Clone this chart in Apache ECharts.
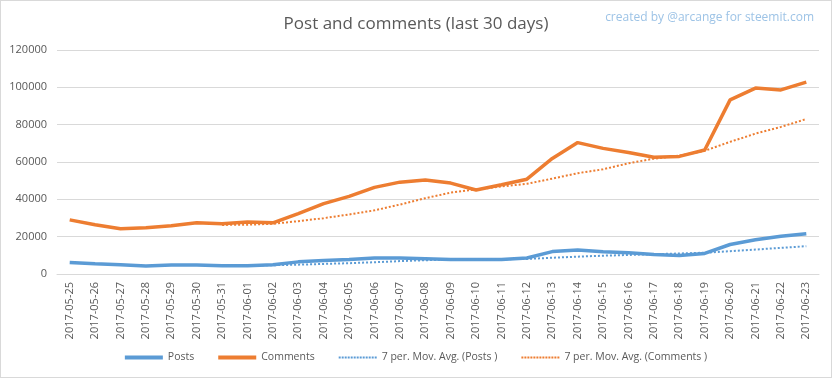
<!DOCTYPE html>
<html>
<head>
<meta charset="utf-8">
<script src="https://cdn.jsdelivr.net/npm/echarts@6/dist/echarts.min.js"></script>
<style>
html,body{margin:0;padding:0;background:#fff;}
#c{width:832px;height:378px;box-sizing:border-box;border:1px solid #d9d9d9;}
</style>
</head>
<body>
<div id="c"></div>
<script>
const categories = ['2017-05-25','2017-05-26','2017-05-27','2017-05-28','2017-05-29','2017-05-30','2017-05-31','2017-06-01','2017-06-02','2017-06-03','2017-06-04','2017-06-05','2017-06-06','2017-06-07','2017-06-08','2017-06-09','2017-06-10','2017-06-11','2017-06-12','2017-06-13','2017-06-14','2017-06-15','2017-06-16','2017-06-17','2017-06-18','2017-06-19','2017-06-20','2017-06-21','2017-06-22','2017-06-23'];
const posts = [6200,5500,4900,4300,4800,4800,4400,4400,5000,6500,7200,7800,8600,8600,8200,7800,7800,7800,8600,12000,12900,11900,11400,10500,9900,11000,15800,18300,20200,21600];
const comments = [29000,26400,24200,24800,25800,27400,26900,27800,27400,32400,37700,41600,46400,49200,50400,48700,45000,47800,50800,61900,70400,67300,65100,62500,63000,66400,93300,99600,98600,102800];
const postsMA = [null,null,null,null,null,null,4700,4600,4700,5000,5400,5800,6300,6900,7400,7600,7800,7900,8100,8700,9300,9800,10200,10600,11000,11400,12200,13100,14000,14900];
const commentsMA = [null,null,null,null,null,null,26300,26400,26900,28300,29900,31900,34100,37200,40600,43600,45300,46900,48300,51100,54000,56100,59300,61800,63400,66000,70800,75200,78800,83000];
const yTicks = [0,20000,40000,60000,80000,100000,120000];
const seriesNames = ['Posts','Comments','7 per. Mov. Avg. (Posts )','7 per. Mov. Avg. (Comments )'];

const font = "'Open Sans',sans-serif";
const solidIcon = 'path://M0,0h38v4h-38z';
let dots = '';
for (let i = 0; i < 13; i++) dots += 'M' + (i*3) + ',1h2v2h-2z';
const dottedIcon = 'path://M0,0h0.01v0.01h-0.01z' + dots + 'M37.99,3.99h0.01v0.01h-0.01z';

const chart = echarts.init(document.getElementById('c'), null, {renderer:'canvas'});
chart.setOption({
  animation:false,
  backgroundColor:'#fff',
  title:[
    {text:'Post and comments (last 30 days)',left:'center',top:10,textStyle:{fontFamily:font,fontSize:17,fontWeight:'normal',color:'#595959'}},
    {text:'created by @arcange for steemit.com',right:12,top:6,textStyle:{fontFamily:font,fontSize:12,fontWeight:'normal',color:'#9dc3e6'}}
  ],
  legend:{
    bottom:9,left:'center',itemGap:24,itemWidth:38,itemHeight:4,
    textStyle:{fontFamily:font,fontSize:10.5,color:'#595959'},
    data:[
      {name:seriesNames[0],icon:solidIcon},
      {name:seriesNames[1],icon:solidIcon},
      {name:seriesNames[2],icon:dottedIcon},
      {name:seriesNames[3],icon:dottedIcon}
    ]
  },
  grid:{left:56,right:12,top:49,bottom:103},
  xAxis:{
    type:'category',data:categories,boundaryGap:true,
    axisLine:{lineStyle:{color:'#d9d9d9'}},axisTick:{show:false},
    axisLabel:{rotate:90,interval:0,fontFamily:font,fontSize:11,color:'#595959',margin:8}
  },
  yAxis:{
    type:'value',min:yTicks[0],max:yTicks[yTicks.length-1],interval:20000,
    axisLine:{show:false},axisTick:{show:false},
    splitLine:{lineStyle:{color:'#d9d9d9',width:1}},
    axisLabel:{fontFamily:font,fontSize:11,color:'#595959',margin:10,formatter:v=>String(v)}
  },
  series:[
    {name:seriesNames[0],type:'line',data:posts,symbol:'none',lineStyle:{color:'#5b9bd5',width:3.5},itemStyle:{color:'#5b9bd5'},z:3},
    {name:seriesNames[1],type:'line',data:comments,symbol:'none',lineStyle:{color:'#ed7d31',width:3.5},itemStyle:{color:'#ed7d31'},z:3},
    {name:seriesNames[2],type:'line',data:postsMA,symbol:'none',lineStyle:{color:'#5b9bd5',width:2,type:[2,2]},itemStyle:{color:'#5b9bd5'},z:4},
    {name:seriesNames[3],type:'line',data:commentsMA,symbol:'none',lineStyle:{color:'#ed7d31',width:2,type:[2,2]},itemStyle:{color:'#ed7d31'},z:4}
  ]
});
</script>
</body>
</html>
